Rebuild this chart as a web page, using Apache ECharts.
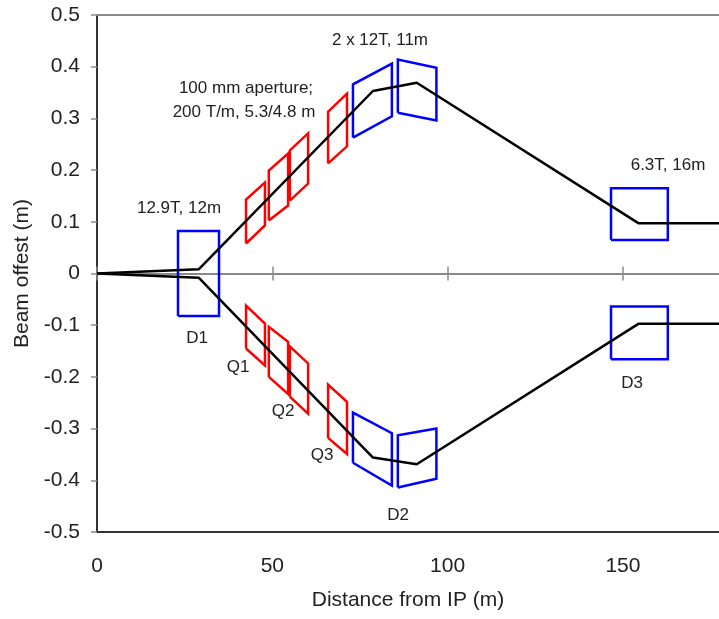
<!DOCTYPE html>
<html>
<head>
<meta charset="utf-8">
<script src="https://cdn.jsdelivr.net/npm/echarts@6/dist/echarts.min.js"></script>
<style>
html,body{margin:0;padding:0;background:#fff;}
#chart{width:719px;height:619px;}
</style>
</head>
<body>
<div id="chart"></div>
<script>
// Beam trajectory (distance from IP in m, offset in m)
const beamX = [0, 29, 78.7, 91.2, 154.5, 180];
const beamUpper = [0, 0.008, 0.353, 0.369, 0.097, 0.097];
const beamLower = [0, -0.008, -0.356, -0.369, -0.097, -0.097];

// Magnets on the upper side (and D1 spanning both): vertical-sided quadrilaterals
const magUpType = ['dipole', 'quad', 'quad', 'quad', 'quad', 'dipole', 'dipole', 'dipole'];
const magUpStart = [23.1, 42.5, 49.0, 55.0, 65.9, 73.0, 85.8, 146.6];
const magUpEnd = [34.8, 47.9, 54.5, 60.2, 71.3, 84.1, 96.8, 162.8];
const magUpLowStart = [-0.082, 0.058, 0.1025, 0.141, 0.213, 0.263, 0.311, 0.065];
const magUpHighStart = [0.082, 0.143, 0.199, 0.238, 0.313, 0.366, 0.414, 0.165];
const magUpLowEnd = [-0.082, 0.093, 0.1315, 0.174, 0.246, 0.304, 0.296, 0.065];
const magUpHighEnd = [0.082, 0.176, 0.232, 0.271, 0.348, 0.406, 0.398, 0.165];

// Magnets on the lower side
const magLoType = ['quad', 'quad', 'quad', 'quad', 'dipole', 'dipole', 'dipole'];
const magLoStart = [42.5, 49.0, 55.0, 65.9, 73.0, 85.8, 146.6];
const magLoEnd = [47.9, 54.5, 60.2, 71.3, 84.1, 96.8, 162.8];
const magLoLowStart = [-0.145, -0.200, -0.238, -0.318, -0.366, -0.414, -0.166];
const magLoHighStart = [-0.062, -0.103, -0.141, -0.215, -0.269, -0.313, -0.064];
const magLoLowEnd = [-0.178, -0.233, -0.271, -0.349, -0.410, -0.397, -0.166];
const magLoHighEnd = [-0.097, -0.132, -0.174, -0.248, -0.309, -0.300, -0.064];

const xTicks = [0, 50, 100, 150];
const yTickLabels = ['0.5', '0.4', '0.3', '0.2', '0.1', '0', '-0.1', '-0.2', '-0.3', '-0.4', '-0.5'];

const colors = { dipole: '#0000ff', quad: '#ff0000' };
const FONT = 'Liberation Sans, Arial, sans-serif';

function boxSeries(types, s, e, ls, hs, le, he) {
  return types.map((t, i) => ({
    type: 'line',
    xAxisIndex: 0, yAxisIndex: 0,
    showSymbol: false,
    silent: true,
    animation: false,
    lineStyle: { color: colors[t], width: 2.5, join: 'miter' },
    data: [[s[i], ls[i]], [s[i], hs[i]], [e[i], he[i]], [e[i], le[i]], [s[i], ls[i]]],
    z: 3
  }));
}

const series = []
  .concat(boxSeries(magUpType, magUpStart, magUpEnd, magUpLowStart, magUpHighStart, magUpLowEnd, magUpHighEnd))
  .concat(boxSeries(magLoType, magLoStart, magLoEnd, magLoLowStart, magLoHighStart, magLoLowEnd, magLoHighEnd));

series.push({
  type: 'line', xAxisIndex: 0, yAxisIndex: 0, showSymbol: false, silent: true, animation: false,
  lineStyle: { color: '#000', width: 2.5 }, z: 4,
  data: beamX.map((x, i) => [x, beamUpper[i]])
});
series.push({
  type: 'line', xAxisIndex: 0, yAxisIndex: 0, showSymbol: false, silent: true, animation: false,
  lineStyle: { color: '#000', width: 2.5 }, z: 4,
  data: beamX.map((x, i) => [x, beamLower[i]])
});

const chart = echarts.init(document.getElementById('chart'), null, { renderer: 'canvas' });

const gridBox = { left: 97, top: 15, right: 0, bottom: 87 };

const yAxisBase = { type: 'value', min: -0.5, max: 0.5, interval: 0.1 };
const xAxisBase = { type: 'value', min: 0, max: 177.4, interval: 50 };

const txt = (t, x, y) => ({
  type: 'text', x: x, y: y, silent: true,
  style: { text: t, font: '17px ' + FONT, fill: '#222', align: 'center', verticalAlign: 'middle' }
});

chart.setOption({
  animation: false,
  backgroundColor: '#fff',
  grid: [
    Object.assign({}, gridBox),
    Object.assign({}, gridBox),
    Object.assign({}, gridBox),
    Object.assign({}, gridBox)
  ],
  xAxis: [
    Object.assign({}, xAxisBase, {
      gridIndex: 0,
      position: 'bottom',
      name: 'Distance from IP (m)',
      nameLocation: 'middle',
      nameGap: 58,
      nameTextStyle: { fontSize: 21, fontFamily: FONT, color: '#222' },
      axisLine: { onZero: false, lineStyle: { color: '#333', width: 2 } },
      axisTick: { show: false },
      splitLine: { show: false },
      axisLabel: {
        fontSize: 21, fontFamily: FONT, color: '#222', margin: 24, showMaxLabel: false,
        formatter: v => (xTicks.indexOf(v) >= 0 ? String(v) : '')
      }
    }),
    Object.assign({}, xAxisBase, {
      gridIndex: 1,
      axisLine: { onZero: true, lineStyle: { color: '#8a8a8a', width: 2 } },
      axisTick: { show: true, length: 7, inside: false, customValues: xTicks, lineStyle: { color: '#8a8a8a', width: 1.5 } },
      axisLabel: { show: false },
      splitLine: { show: false }
    }),
    Object.assign({}, xAxisBase, {
      gridIndex: 2,
      axisLine: { onZero: true, lineStyle: { color: '#8a8a8a', width: 2 } },
      axisTick: { show: true, length: 7, inside: true, customValues: xTicks, lineStyle: { color: '#8a8a8a', width: 1.5 } },
      axisLabel: { show: false },
      splitLine: { show: false }
    }),
    Object.assign({}, xAxisBase, {
      gridIndex: 3,
      position: 'top',
      axisLine: { onZero: false, lineStyle: { color: '#8a8a8a', width: 2 } },
      axisTick: { show: false },
      axisLabel: { show: false },
      splitLine: { show: false }
    })
  ],
  yAxis: [
    Object.assign({}, yAxisBase, {
      gridIndex: 0,
      name: 'Beam offest (m)',
      nameLocation: 'middle',
      nameGap: 64,
      nameRotate: 90,
      nameTextStyle: { fontSize: 21, fontFamily: FONT, color: '#222' },
      axisLine: { show: true, onZero: false, lineStyle: { color: '#333', width: 2 } },
      axisTick: { show: true, length: 6, lineStyle: { color: '#8a8a8a', width: 1.5 } },
      splitLine: { show: false },
      axisLabel: {
        fontSize: 21, fontFamily: FONT, color: '#222', margin: 17,
        formatter: v => {
          const idx = Math.round((0.5 - v) / 0.1);
          return yTickLabels[idx] !== undefined ? yTickLabels[idx] : '';
        }
      }
    }),
    Object.assign({}, yAxisBase, { gridIndex: 1, show: false }),
    Object.assign({}, yAxisBase, { gridIndex: 2, show: false }),
    Object.assign({}, yAxisBase, { gridIndex: 3, show: false })
  ],
  graphic: [
    txt('12.9T, 12m', 179, 208),
    txt('100 mm aperture;', 246, 88),
    txt('200 T/m, 5.3/4.8 m', 244, 112),
    txt('2 x 12T, 11m', 380, 40),
    txt('6.3T, 16m', 668, 165),
    txt('D1', 197, 338),
    txt('Q1', 238, 367),
    txt('Q2', 283, 411),
    txt('Q3', 322, 455),
    txt('D2', 398, 515),
    txt('D3', 632, 383)
  ],
  series: series
});
</script>
</body>
</html>
